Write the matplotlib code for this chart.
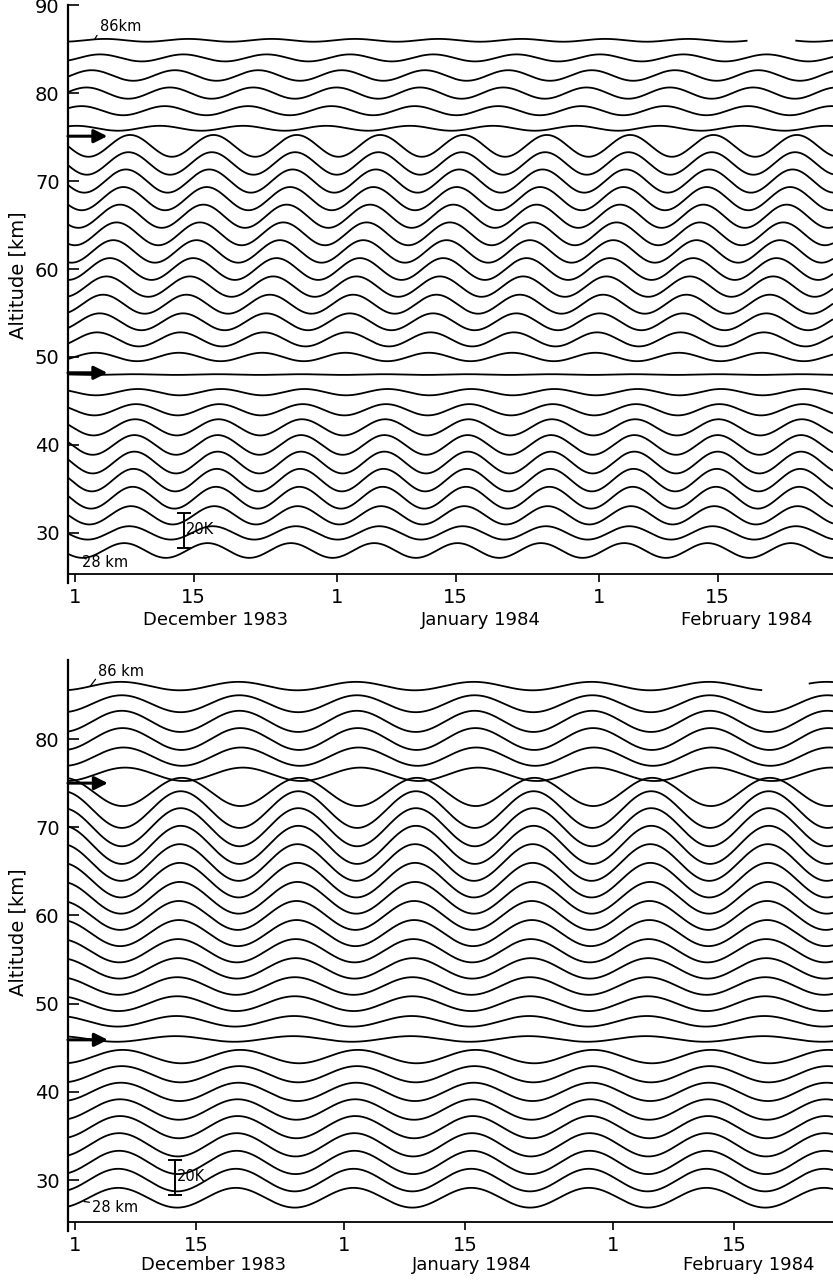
import numpy as np
import matplotlib
matplotlib.use("Agg")
import matplotlib.pyplot as plt

plt.rcParams['font.family'] = ['DejaVu Sans']

# altitude levels of the curves (km)
altitudes = [28, 30, 32, 34, 36, 38, 40, 42, 44, 46, 48, 50, 52, 54, 56,
             58, 60, 62, 64, 66, 68, 70, 72, 74, 76, 78, 80, 82, 84, 86]

# upper panel: fitted wave per level, amplitude (K) and day of maximum
top_period = 9.86
top_amp = [4.2, 3.8, 5.2, 6.2, 6.4, 6.2, 5.6, 4.6, 3.2, 1.8, 0.2, 2.4, 4.0, 4.8, 5.4,
           5.8, 6.2, 6.4, 6.5, 6.6, 6.6, 6.6, 6.4, 6.2, 1.4, 2.6, 3.2, 3.0, 2.0, 0.8]
top_crest = [6.8, 7.4, 7.6, 7.8, 7.9, 8.0, 8.0, 8.1, 8.2, 8.4, 8.0, 3.4, 3.6, 3.9, 4.3,
             4.7, 5.1, 5.5, 5.9, 6.3, 6.7, 7.0, 7.3, 7.5, 11.0, 11.6, 12.2, 12.8, 13.8, 14.4]

# lower panel
bot_period = 13.56
bot_amp = [5.6, 6.4, 6.6, 6.6, 6.3, 5.8, 5.2, 4.6, 3.8, 1.6, 3.0, 4.2, 5.0, 5.8, 6.6,
           7.4, 8.2, 9.0, 9.8, 10.4, 10.8, 10.8, 10.4, 8.0, 3.8, 5.2, 6.2, 6.0, 4.8, 2.4]
bot_crest = [6.0, 6.0, 6.1, 6.1, 6.2, 6.2, 6.3, 6.4, 6.5, 12.6, 12.7, 12.8, 12.8, 12.9, 12.9,
             13.0, 13.0, 13.1, 13.1, 13.1, 13.2, 13.2, 13.2, 13.3, 6.8, 6.6, 6.5, 6.4, 6.4, 6.3]

# missing 86 km data (days from 30 Nov 1983)
top_gap = (80.6, 86.2)
bot_gap = (80.3, 85.6)

# phase reversal levels (km)
top_nodes = [75.1, 48.2]
bot_nodes = [75.0, 45.9]

day_ticks = [1, 15, 32, 46, 63, 77]
day_labels = ['1', '15', '1', '15', '1', '15']
months = ['December 1983', 'January 1984', 'February 1984']

km_per_K = 0.2   # 20 K bar is 4 km high


def curve(i, amp, crest, period, t):
    return altitudes[i] + km_per_K * amp[i] * np.cos(2 * np.pi * (t - crest[i]) / period)


def draw_panel(ax, amp, crest, period, gap, nodes, xlim, ylim, yticks,
               month_x, month_off, bar_x, lab86, lab28):
    t = np.linspace(xlim[0], xlim[1], 1200)
    for i in range(len(altitudes)):
        y = curve(i, amp, crest, period, t)
        if altitudes[i] == 86:
            y = np.where((t > gap[0]) & (t < gap[1]), np.nan, y)
        ax.plot(t, y, color='black', lw=1.3, solid_capstyle='butt')

    for n in nodes:
        ax.annotate('', xy=(4.8, n), xytext=(xlim[0], n),
                    arrowprops=dict(arrowstyle='-|>', lw=2.2, color='black',
                                    mutation_scale=20, shrinkA=0, shrinkB=0))

    # 20 K scale bar
    ax.errorbar([bar_x], [30.3], yerr=[10 * km_per_K], color='black', lw=1.4,
                capsize=5, capthick=1.4)
    ax.text(bar_x + 0.2, 30.3 + 0.1, '20K', fontsize=10.5, va='center', ha='left')

    # level labels
    i86 = altitudes.index(86)
    x0, xt, yt, txt = lab86
    ax.annotate(txt, xy=(x0, curve(i86, amp, crest, period, x0)), xytext=(xt, yt),
                fontsize=10.5, va='center', ha='left',
                arrowprops=dict(arrowstyle='-', lw=0.9, color='black',
                                shrinkA=0, shrinkB=0, relpos=(0, 0.2)))
    i28 = altitudes.index(28)
    x0, xt, yt, txt = lab28
    ax.annotate(txt, xy=(x0, curve(i28, amp, crest, period, x0) - 0.15), xytext=(xt, yt),
                fontsize=10.5, va='center', ha='left',
                arrowprops=dict(arrowstyle='-', lw=0.9, color='black',
                                shrinkA=0, shrinkB=0, relpos=(0.05, 0.8)))

    ax.set_xlim(*xlim)
    ax.set_ylim(*ylim)
    ax.set_yticks(yticks)
    ax.set_xticks(day_ticks)
    ax.set_xticklabels(day_labels)
    ax.tick_params(axis='y', direction='in', length=8, width=1.2, labelsize=14, pad=6)
    ax.tick_params(axis='x', direction='out', length=6, width=1.2, labelsize=14, pad=4)
    for s in ['top', 'right']:
        ax.spines[s].set_visible(False)
    ax.spines['left'].set_linewidth(1.6)
    ax.spines['bottom'].set_linewidth(1.3)
    ax.spines['left'].set_bounds(ylim[0] - 1.0, ylim[1])

    for m, mx in zip(months, month_x):
        ax.annotate(m, xy=(mx, 0), xycoords=('data', 'axes fraction'),
                    xytext=(0, month_off), textcoords='offset points',
                    ha='center', va='center', fontsize=13)


fig = plt.figure(figsize=(8.33, 12.81), dpi=100)
ax1 = fig.add_axes([0.0816, 0.552, 0.9184, 0.444])
ax2 = fig.add_axes([0.0816, 0.046, 0.9184, 0.4388])

draw_panel(ax1, top_amp, top_crest, top_period, top_gap, top_nodes,
           (0.14, 90.66), (25.34, 90.0), [30, 40, 50, 60, 70, 80, 90],
           [17.6, 49.0, 80.4], -33, 13.9,
           (3.3, 3.9, 87.6, '86km'), (2.3, 1.8, 26.6, '28 km'))
draw_panel(ax2, bot_amp, bot_crest, bot_period, bot_gap, bot_nodes,
           (0.2, 88.4), (25.24, 88.96), [30, 40, 50, 60, 70, 80],
           [17.0, 46.8, 78.7], -31, 12.5,
           (2.75, 3.7, 87.7, '86 km'), (2.06, 3.0, 26.9, '28 km'))

for ax, yc in [(ax1, 275), (ax2, 932)]:
    fig.text(18 / 833, 1 - yc / 1281, 'Altitude [km]', rotation=90,
             ha='center', va='center', fontsize=14)

fig.savefig('out.png', dpi=100)
